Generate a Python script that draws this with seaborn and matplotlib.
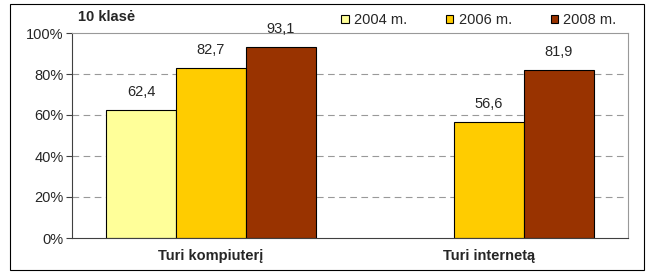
import numpy as np
import pandas as pd
import matplotlib.pyplot as plt
import seaborn as sns
from matplotlib.patches import Rectangle

categories = ['Turi kompiuterį', 'Turi internetą']
years = ['2004 m.', '2006 m.', '2008 m.']
v2004 = [62.4, np.nan]
v2006 = [82.7, 56.6]
v2008 = [93.1, 81.9]
colors = ['#FFFF99', '#FFCC00', '#993300']

rows = []
for yr, vals in zip(years, [v2004, v2006, v2008]):
    for cat, v in zip(categories, vals):
        rows.append({'cat': cat, 'year': yr, 'value': v})
df = pd.DataFrame(rows)

sns.set_style('white')
plt.rcParams['font.family'] = ['Liberation Sans', 'DejaVu Sans']
fs = 10.5

fig = plt.figure(figsize=(6.49, 2.73), dpi=100)
ax = fig.add_axes([72 / 649, 1 - 238 / 273, (628 - 72) / 649, (238 - 33) / 273])

sns.barplot(data=df, x='cat', y='value', hue='year', palette=colors,
            width=0.755, edgecolor='black', linewidth=0.8, ax=ax, legend=True,
            errorbar=None, saturation=1)

ax.set_ylim(0, 100)
ax.set_xlim(-0.5, 1.5)
ax.set_yticks(range(0, 101, 20))
ax.set_yticklabels([f'{t}%' for t in range(0, 101, 20)], fontsize=fs)
ax.tick_params(axis='y', length=4, width=0.8, color='#404040', direction='out', left=True, pad=2)
ax.tick_params(axis='x', length=0, labelsize=fs, pad=8)
for lab in ax.get_xticklabels():
    lab.set_fontweight('bold')
ax.set_xlabel('')
ax.set_ylabel('')

for y in [20, 40, 60, 80]:
    ax.axhline(y, color='#999999', lw=0.8, ls=(0, (6, 4)), zorder=0)

# minor tick between categories
ax.set_xticks([0.5], minor=True)
ax.tick_params(axis='x', which='minor', length=4, width=0.8, color='#404040', direction='in')

for s in ['top', 'right']:
    ax.spines[s].set_color('#999999')
    ax.spines[s].set_linewidth(0.8)
for s in ['left', 'bottom']:
    ax.spines[s].set_color('#404040')
    ax.spines[s].set_linewidth(0.8)

for cont in ax.containers:
    labels = ['' if np.isnan(v) else f'{v:.1f}'.replace('.', ',') for v in cont.datavalues]
    ax.bar_label(cont, labels=labels, padding=8, fontsize=fs)

leg = ax.legend(loc='lower right', bbox_to_anchor=(0.99, 1.0), ncol=3, frameon=False,
                fontsize=fs, handlelength=0.5, handleheight=0.5, handletextpad=0.35,
                columnspacing=2.7, borderaxespad=0.2, borderpad=0.2)
for h in leg.legend_handles:
    h.set_edgecolor('black')
    h.set_linewidth(0.8)

fig.text(78 / 649, 1 - 17 / 273, '10 klasė', fontsize=fs, fontweight='bold', va='center')

fig.patches.append(Rectangle((10 / 649, 3 / 273), 634 / 649, 266 / 273, transform=fig.transFigure,
                             fill=False, edgecolor='black', lw=0.8))

fig.savefig('out.png', dpi=100)
